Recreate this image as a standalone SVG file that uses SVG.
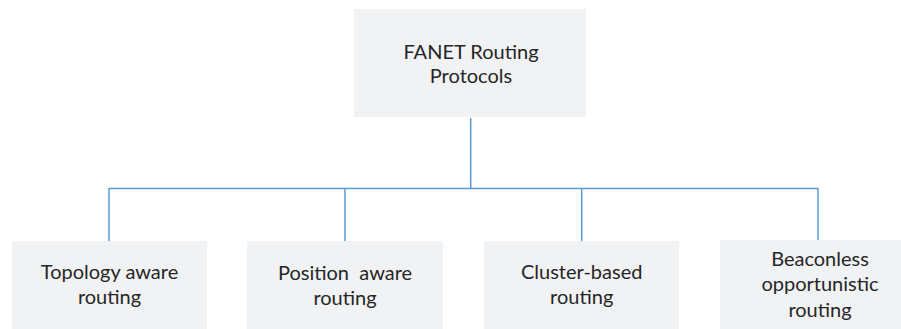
<svg xmlns="http://www.w3.org/2000/svg" width="901" height="329" viewBox="0 0 901 329">
<style>
.box{fill:#f1f2f4;}
.t{font-family:Lato,"Liberation Sans",sans-serif;font-size:20px;fill:#262626;text-anchor:middle;white-space:pre;}
.c{fill:none;stroke:#5b9bd5;stroke-width:1.5;}
</style>
<rect width="901" height="329" fill="#ffffff"/>
<g id="connectors">
<path class="c" d="M470.7,118 V188.5 M109,188.5 H818 M109,188 V241 M345,188 V241 M581.7,188 V241 M818,188 V241"/>
</g>
<g id="root">
<rect class="box" x="354" y="9" width="232" height="108"/>
<text class="t" x="471" y="59">FANET Routing</text>
<text class="t" x="471" y="83">Protocols</text>
</g>
<g id="topology">
<rect class="box" x="12" y="241" width="195" height="90"/>
<text class="t" x="109.5" y="279">Topology aware</text>
<text class="t" x="109.5" y="304">routing</text>
</g>
<g id="position">
<rect class="box" x="247" y="241" width="196" height="90"/>
<text class="t" x="345" y="280" xml:space="preserve">Position  aware</text>
<text class="t" x="345" y="305">routing</text>
</g>
<g id="cluster">
<rect class="box" x="484" y="241" width="195" height="90"/>
<text class="t" x="581.7" y="279">Cluster-based</text>
<text class="t" x="581.7" y="304">routing</text>
</g>
<g id="beaconless">
<rect class="box" x="720" y="240" width="196" height="91"/>
<text class="t" x="820" y="265.5">Beaconless</text>
<text class="t" x="820" y="291">opportunistic</text>
<text class="t" x="820" y="316.5">routing</text>
</g>
</svg>
